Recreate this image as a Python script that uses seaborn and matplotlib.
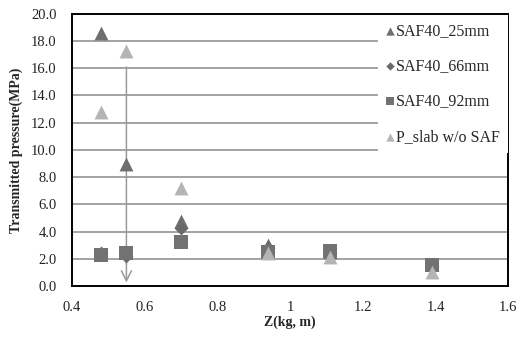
import numpy as np
import pandas as pd
import matplotlib
matplotlib.use("Agg")
import matplotlib.pyplot as plt
import seaborn as sns

sns.set_theme(style="white")
plt.rcParams['font.family'] = ['Liberation Serif', 'DejaVu Serif']

# Data
z = [0.48, 0.55, 0.70, 0.94, 1.11, 1.39]
saf25 = [18.6, 9.0, 4.8, 3.0, 2.5, 1.6]
saf66 = [2.45, 2.2, 4.25, 2.8, 2.4, 1.5]
saf92 = [2.3, 2.45, 3.2, 2.5, 2.55, 1.55]
pslab = [12.8, 17.3, 7.2, 2.4, 2.15, 1.05]
series_names = ["SAF40_25mm", "SAF40_66mm", "SAF40_92mm", "P_slab w/o SAF"]
x_ticks = [0.4, 0.6, 0.8, 1.0, 1.2, 1.4, 1.6]
x_tick_labels = ["0.4", "0.6", "0.8", "1", "1.2", "1.4", "1.6"]
y_ticks = [0, 2, 4, 6, 8, 10, 12, 14, 16, 18, 20]
arrow_x = 0.55
arrow_top = 16.3

df = pd.concat([
    pd.DataFrame({"Z": z, "P": v, "series": n})
    for n, v in zip(series_names, [saf25, saf66, saf92, pslab])
], ignore_index=True)

colors = {"SAF40_25mm": "#6e6e6e", "SAF40_66mm": "#6a6a6a",
          "SAF40_92mm": "#727272", "P_slab w/o SAF": "#b4b4b4"}
markers = {"SAF40_25mm": "^", "SAF40_66mm": "D",
           "SAF40_92mm": "s", "P_slab w/o SAF": "^"}
sizes = {"SAF40_25mm": 100, "SAF40_66mm": 50,
         "SAF40_92mm": 90, "P_slab w/o SAF": 100}

fig = plt.figure(figsize=(5.17, 3.38), dpi=100)
ax = fig.add_axes([0.139, 0.154, 0.844, 0.805])

for y in y_ticks[1:-1]:
    ax.axhline(y, color="#8a8a8a", lw=1.1, zorder=0)

for n in series_names:
    sub = df[df["series"] == n]
    sns.scatterplot(data=sub, x="Z", y="P", ax=ax, color=colors[n],
                    marker=markers[n], s=sizes[n], linewidth=0,
                    label=n, zorder=3)

ax.annotate("", xy=(arrow_x, 0.05), xytext=(arrow_x, arrow_top),
            arrowprops=dict(arrowstyle="->", color="#9a9a9a", lw=1.1,
                            mutation_scale=18), zorder=2)

ax.set_xlim(0.4, 1.6)
ax.set_ylim(0, 20)
ax.set_xticks(x_ticks)
ax.set_xticklabels(x_tick_labels)
ax.set_yticks(y_ticks)
ax.set_yticklabels([f"{v:.1f}" for v in y_ticks])
ax.tick_params(axis="both", direction="out", length=3, width=1,
               color="#333333", labelsize=10.5, colors="#222222")
ax.tick_params(axis="x", pad=8)
ax.tick_params(axis="y", pad=8)

for sp in ax.spines.values():
    sp.set_color("black")
    sp.set_linewidth(1.4)
    sp.set_visible(True)

ax.set_xlabel("Z(kg, m)", fontsize=10, fontweight="bold", labelpad=1)
ax.set_ylabel("Transmitted pressure(MPa)", fontsize=10, fontweight="bold",
              labelpad=6)

leg = ax.legend(loc="upper right", bbox_to_anchor=(1.0, 0.995),
                frameon=True, fontsize=11.5, labelspacing=1.2,
                handlelength=0.5, handletextpad=0.15, borderpad=0.5,
                borderaxespad=0.0, markerscale=0.6)
leg.get_frame().set_facecolor("white")
leg.get_frame().set_edgecolor("none")
leg.get_frame().set_alpha(1)
leg.get_frame().set_boxstyle("square", pad=0.0)

fig.savefig("out.png", dpi=100)
